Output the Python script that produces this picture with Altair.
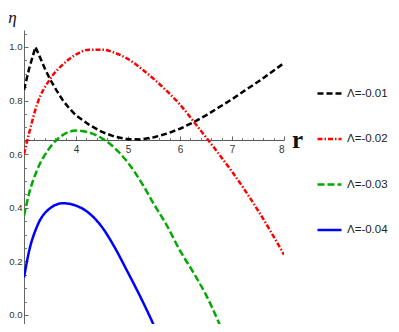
import altair as alt
import pandas as pd

labels = ["Λ=-0.01", "Λ=-0.02", "Λ=-0.03", "Λ=-0.04"]
colors = ["#000000", "#ff0000", "#00aa00", "#0000ff"]
dashes = [[6, 3], [5, 2, 1.5, 2], [7, 3], [1, 0]]

r_black = [3.0, 3.1, 3.22, 3.3, 3.4, 3.5, 3.625, 3.75, 3.875, 4.0, 4.25, 4.5, 4.75, 5.0,
           5.25, 5.5, 5.75, 6.0, 6.25, 6.5, 6.75, 7.0, 7.25, 7.5, 7.75, 8.0]
eta_black = [0.84, 0.92, 1.0, 0.965, 0.92, 0.88, 0.838, 0.80, 0.77, 0.745, 0.71, 0.683, 0.665, 0.656,
             0.655, 0.663, 0.677, 0.695, 0.718, 0.745, 0.775, 0.805, 0.838, 0.87, 0.905, 0.94]

r_red = [3.0, 3.1, 3.25, 3.5, 3.75, 4.0, 4.25, 4.5, 4.75, 5.0, 5.25, 5.5, 5.75, 6.0,
         6.25, 6.5, 6.75, 7.0, 7.25, 7.5, 7.75, 8.0]
eta_red = [0.60, 0.68, 0.785, 0.88, 0.935, 0.972, 0.99, 0.99, 0.978, 0.955, 0.92, 0.88, 0.835, 0.785,
           0.725, 0.663, 0.60, 0.535, 0.465, 0.39, 0.31, 0.225]

r_green = [3.0, 3.1, 3.25, 3.5, 3.75, 4.0, 4.25, 4.5, 4.75, 5.0, 5.25, 5.5, 5.75, 6.0,
           6.25, 6.5, 6.75, 6.9]
eta_green = [0.37, 0.455, 0.54, 0.625, 0.672, 0.688, 0.681, 0.659, 0.622, 0.568, 0.497, 0.413, 0.333, 0.24,
             0.161, 0.075, -0.03, -0.10]

r_blue = [3.0, 3.1, 3.25, 3.5, 3.75, 4.0, 4.25, 4.5, 4.75, 5.0, 5.25, 5.5, 5.6]
eta_blue = [0.14, 0.24, 0.33, 0.398, 0.417, 0.408, 0.38, 0.328, 0.25, 0.158, 0.063, -0.04, -0.085]

x_major = [4, 5, 6, 7, 8]
y_major = [0.0, 0.2, 0.4, 0.6, 0.8, 1.0]

rows = []
for lab, rs, es in zip(labels, [r_black, r_red, r_green, r_blue],
                       [eta_black, eta_red, eta_green, eta_blue]):
    for r, e in zip(rs, es):
        rows.append({"r": r, "eta": e, "series": lab})
df = pd.DataFrame(rows)

x_minor = [round(3 + 0.2 * i, 2) for i in range(1, 25) if (i % 5) != 0]
y_minor = [round(0.05 * i, 2) for i in range(1, 22) if (i % 4) != 0]

LEFT = 16
TOP = 22
W, H = 260, 294
x_dom = [3, 8]
y_dom = [-0.0336, 1.0634]
axis_eta = 0.653
axis_px = H * (y_dom[1] - axis_eta) / (y_dom[1] - y_dom[0])

xs = alt.Scale(domain=x_dom, nice=False, zero=False)
ys = alt.Scale(domain=y_dom, nice=False, zero=False)
col = alt.Color("series:N", scale=alt.Scale(domain=labels, range=colors),
                legend=alt.Legend(title=None, orient="none", legendX=292, legendY=50,
                                  symbolType="stroke", symbolSize=576, symbolStrokeWidth=2.5,
                                  labelFontSize=11.5, labelFont="Liberation Sans", labelColor="#222",
                                  rowPadding=26.5, labelOffset=4))
dash = alt.StrokeDash("series:N", scale=alt.Scale(domain=labels, range=dashes), legend=None)

tick_font = "Liberation Sans"

base = alt.Chart(df)

black = base.transform_filter(alt.datum.series == labels[0]).mark_line(
    interpolate="linear", strokeWidth=2.5, clip=True
).encode(
    x=alt.X("r:Q", scale=xs, axis=alt.Axis(orient="bottom", offset=-(H - axis_px), values=x_major,
                                             tickSize=0, domain=False, grid=False, labelPadding=5,
                                             labelFontSize=10, labelFont=tick_font, labelColor="#333",
                                             title="r", titleFont="Liberation Serif", titleFontSize=25,
                                             titleFontWeight="bold", titleX=297 - 8 - LEFT, titleY=0,
                                             titleBaseline="middle", titleAlign="center", titleColor="#111")),
    y=alt.Y("eta:Q", scale=ys, axis=alt.Axis(orient="left", values=y_major, format=".1f", tickSize=0,
                                               domain=True, grid=False, labelPadding=2,
                                               labelFontSize=9.5, labelFont=tick_font, labelColor="#333",
                                               domainColor="#666",
                                               title="η", titleAngle=0, titleFont="Liberation Serif",
                                               titleFontStyle="italic", titleFontSize=17,
                                               titleFontWeight="normal", titleX=12 - 8 - LEFT, titleY=1 - TOP,
                                               titleAlign="center", titleBaseline="top", titleColor="#111")),
    color=col,
    strokeDash=dash,
)

others = base.transform_filter(alt.datum.series != labels[0]).mark_line(
    interpolate="monotone", strokeWidth=2.5, clip=True
).encode(
    x=alt.X("r:Q", scale=xs, axis=None),
    y=alt.Y("eta:Q", scale=ys, axis=None),
    color=col,
    strokeDash=dash,
)

major_axes = base.mark_point(opacity=0).encode(
    x=alt.X("r:Q", scale=xs, axis=alt.Axis(orient="top", offset=-axis_px, values=x_major, tickSize=4,
                                             labels=False, domain=True, grid=False, title=None,
                                             domainColor="#555", tickColor="#666")),
    y=alt.Y("eta:Q", scale=ys, axis=alt.Axis(orient="right", offset=-W, values=y_major, tickSize=4,
                                               labels=False, domain=False, grid=False, title=None,
                                               tickColor="#666")),
)

minor_axes = base.mark_point(opacity=0).encode(
    x=alt.X("r:Q", scale=xs, axis=alt.Axis(orient="top", offset=-axis_px, values=x_minor, tickSize=2.5,
                                             labels=False, domain=False, grid=False, title=None,
                                             tickColor="#777")),
    y=alt.Y("eta:Q", scale=ys, axis=alt.Axis(orient="right", offset=-W, values=y_minor, tickSize=2.5,
                                               labels=False, domain=False, grid=False, title=None,
                                               tickColor="#777")),
)

chart = alt.layer(black, others, major_axes, minor_axes).resolve_axis(
    x="independent", y="independent"
).properties(
    width=W, height=H,
    padding={"left": LEFT, "top": TOP, "right": 383 - LEFT - W, "bottom": 0},
    autosize=alt.AutoSizeParams(type="none"),
    background="white",
).configure_view(stroke=None)

chart.save("out.html", embed_options={"renderer": "svg", "actions": False})
